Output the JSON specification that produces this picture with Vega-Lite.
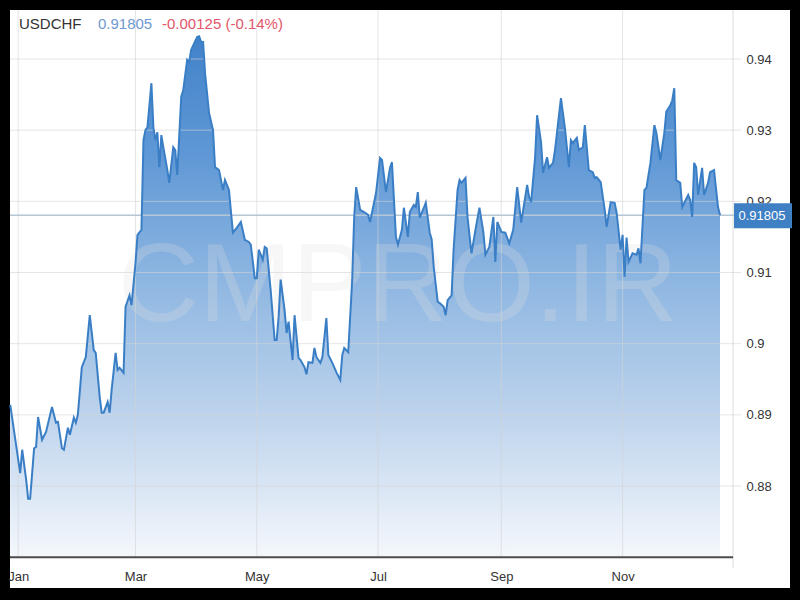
{
  "$schema": "https://vega.github.io/schema/vega-lite/v6.json",
  "width": 780,
  "height": 578,
  "autosize": {"type": "none"},
  "padding": {"left": 10, "top": 10, "right": 10, "bottom": 12},
  "background": "#000000",
  "config": {
    "view": {"fill": "#ffffff", "stroke": null},
    "font": "Liberation Sans, Arial, sans-serif"
  },
  "datasets": {
    "prices": [
      {"date": "2020-12-28", "close": 0.8914},
      {"date": "2021-01-02", "close": 0.8818},
      {"date": "2021-01-03", "close": 0.8851},
      {"date": "2021-01-05", "close": 0.8809},
      {"date": "2021-01-06", "close": 0.8782},
      {"date": "2021-01-07", "close": 0.8782},
      {"date": "2021-01-09", "close": 0.8853},
      {"date": "2021-01-10", "close": 0.8855},
      {"date": "2021-01-11", "close": 0.8897},
      {"date": "2021-01-13", "close": 0.8865},
      {"date": "2021-01-15", "close": 0.8876},
      {"date": "2021-01-18", "close": 0.8911},
      {"date": "2021-01-20", "close": 0.8889},
      {"date": "2021-01-21", "close": 0.8890},
      {"date": "2021-01-23", "close": 0.8853},
      {"date": "2021-01-24", "close": 0.8851},
      {"date": "2021-01-26", "close": 0.8882},
      {"date": "2021-01-27", "close": 0.8872},
      {"date": "2021-01-29", "close": 0.8896},
      {"date": "2021-01-30", "close": 0.8889},
      {"date": "2021-01-31", "close": 0.8900},
      {"date": "2021-02-02", "close": 0.8967},
      {"date": "2021-02-04", "close": 0.8981},
      {"date": "2021-02-06", "close": 0.9040},
      {"date": "2021-02-08", "close": 0.8991},
      {"date": "2021-02-09", "close": 0.8987},
      {"date": "2021-02-11", "close": 0.8925},
      {"date": "2021-02-12", "close": 0.8903},
      {"date": "2021-02-13", "close": 0.8903},
      {"date": "2021-02-15", "close": 0.8918},
      {"date": "2021-02-16", "close": 0.8903},
      {"date": "2021-02-17", "close": 0.8935},
      {"date": "2021-02-19", "close": 0.8987},
      {"date": "2021-02-20", "close": 0.8963},
      {"date": "2021-02-21", "close": 0.8966},
      {"date": "2021-02-23", "close": 0.8959},
      {"date": "2021-02-24", "close": 0.9052},
      {"date": "2021-02-26", "close": 0.9068},
      {"date": "2021-02-27", "close": 0.9054},
      {"date": "2021-03-01", "close": 0.9113},
      {"date": "2021-03-02", "close": 0.9153},
      {"date": "2021-03-04", "close": 0.9160},
      {"date": "2021-03-05", "close": 0.9286},
      {"date": "2021-03-06", "close": 0.9300},
      {"date": "2021-03-07", "close": 0.9304},
      {"date": "2021-03-09", "close": 0.9366},
      {"date": "2021-03-10", "close": 0.9304},
      {"date": "2021-03-11", "close": 0.9286},
      {"date": "2021-03-12", "close": 0.9297},
      {"date": "2021-03-13", "close": 0.9248},
      {"date": "2021-03-14", "close": 0.9293},
      {"date": "2021-03-15", "close": 0.9276},
      {"date": "2021-03-17", "close": 0.9244},
      {"date": "2021-03-18", "close": 0.9226},
      {"date": "2021-03-20", "close": 0.9276},
      {"date": "2021-03-21", "close": 0.9272},
      {"date": "2021-03-22", "close": 0.9237},
      {"date": "2021-03-24", "close": 0.9347},
      {"date": "2021-03-25", "close": 0.9356},
      {"date": "2021-03-27", "close": 0.9399},
      {"date": "2021-03-28", "close": 0.9396},
      {"date": "2021-03-29", "close": 0.9413},
      {"date": "2021-04-01", "close": 0.9431},
      {"date": "2021-04-02", "close": 0.9432},
      {"date": "2021-04-03", "close": 0.9424},
      {"date": "2021-04-04", "close": 0.9424},
      {"date": "2021-04-05", "close": 0.9380},
      {"date": "2021-04-07", "close": 0.9324},
      {"date": "2021-04-09", "close": 0.9300},
      {"date": "2021-04-10", "close": 0.9248},
      {"date": "2021-04-12", "close": 0.9244},
      {"date": "2021-04-14", "close": 0.9216},
      {"date": "2021-04-15", "close": 0.9230},
      {"date": "2021-04-17", "close": 0.9216},
      {"date": "2021-04-19", "close": 0.9156},
      {"date": "2021-04-21", "close": 0.9163},
      {"date": "2021-04-23", "close": 0.9171},
      {"date": "2021-04-25", "close": 0.9146},
      {"date": "2021-04-27", "close": 0.9143},
      {"date": "2021-04-28", "close": 0.9139},
      {"date": "2021-04-30", "close": 0.9092},
      {"date": "2021-05-01", "close": 0.9092},
      {"date": "2021-05-02", "close": 0.9132},
      {"date": "2021-05-04", "close": 0.9118},
      {"date": "2021-05-05", "close": 0.9136},
      {"date": "2021-05-06", "close": 0.9134},
      {"date": "2021-05-08", "close": 0.9075},
      {"date": "2021-05-10", "close": 0.9005},
      {"date": "2021-05-11", "close": 0.9005},
      {"date": "2021-05-12", "close": 0.9038},
      {"date": "2021-05-13", "close": 0.9090},
      {"date": "2021-05-15", "close": 0.9047},
      {"date": "2021-05-16", "close": 0.9015},
      {"date": "2021-05-17", "close": 0.9031},
      {"date": "2021-05-19", "close": 0.8977},
      {"date": "2021-05-20", "close": 0.9040},
      {"date": "2021-05-22", "close": 0.8980},
      {"date": "2021-05-23", "close": 0.8977},
      {"date": "2021-05-25", "close": 0.8967},
      {"date": "2021-05-26", "close": 0.8957},
      {"date": "2021-05-27", "close": 0.8974},
      {"date": "2021-05-29", "close": 0.8973},
      {"date": "2021-05-30", "close": 0.8994},
      {"date": "2021-05-31", "close": 0.8981},
      {"date": "2021-06-02", "close": 0.8973},
      {"date": "2021-06-03", "close": 0.8981},
      {"date": "2021-06-05", "close": 0.9036},
      {"date": "2021-06-06", "close": 0.8984},
      {"date": "2021-06-08", "close": 0.8973},
      {"date": "2021-06-10", "close": 0.8960},
      {"date": "2021-06-12", "close": 0.8949},
      {"date": "2021-06-13", "close": 0.8984},
      {"date": "2021-06-14", "close": 0.8994},
      {"date": "2021-06-16", "close": 0.8988},
      {"date": "2021-06-18", "close": 0.9090},
      {"date": "2021-06-19", "close": 0.9178},
      {"date": "2021-06-20", "close": 0.9220},
      {"date": "2021-06-22", "close": 0.9188},
      {"date": "2021-06-24", "close": 0.9185},
      {"date": "2021-06-26", "close": 0.9181},
      {"date": "2021-06-27", "close": 0.9171},
      {"date": "2021-06-30", "close": 0.9212},
      {"date": "2021-07-02", "close": 0.9261},
      {"date": "2021-07-03", "close": 0.9258},
      {"date": "2021-07-05", "close": 0.9213},
      {"date": "2021-07-07", "close": 0.9247},
      {"date": "2021-07-08", "close": 0.9255},
      {"date": "2021-07-10", "close": 0.9150},
      {"date": "2021-07-11", "close": 0.9139},
      {"date": "2021-07-13", "close": 0.9160},
      {"date": "2021-07-14", "close": 0.9191},
      {"date": "2021-07-16", "close": 0.9150},
      {"date": "2021-07-17", "close": 0.9185},
      {"date": "2021-07-19", "close": 0.9195},
      {"date": "2021-07-20", "close": 0.9192},
      {"date": "2021-07-21", "close": 0.9213},
      {"date": "2021-07-22", "close": 0.9177},
      {"date": "2021-07-24", "close": 0.9191},
      {"date": "2021-07-25", "close": 0.9198},
      {"date": "2021-07-27", "close": 0.9156},
      {"date": "2021-07-28", "close": 0.9146},
      {"date": "2021-07-29", "close": 0.9108},
      {"date": "2021-07-31", "close": 0.9059},
      {"date": "2021-08-01", "close": 0.9057},
      {"date": "2021-08-03", "close": 0.9052},
      {"date": "2021-08-04", "close": 0.9040},
      {"date": "2021-08-05", "close": 0.9061},
      {"date": "2021-08-07", "close": 0.9068},
      {"date": "2021-08-08", "close": 0.9132},
      {"date": "2021-08-10", "close": 0.9216},
      {"date": "2021-08-11", "close": 0.9230},
      {"date": "2021-08-12", "close": 0.9226},
      {"date": "2021-08-14", "close": 0.9233},
      {"date": "2021-08-15", "close": 0.9178},
      {"date": "2021-08-17", "close": 0.9127},
      {"date": "2021-08-19", "close": 0.9160},
      {"date": "2021-08-21", "close": 0.9191},
      {"date": "2021-08-23", "close": 0.9156},
      {"date": "2021-08-24", "close": 0.9125},
      {"date": "2021-08-26", "close": 0.9136},
      {"date": "2021-08-28", "close": 0.9178},
      {"date": "2021-08-29", "close": 0.9115},
      {"date": "2021-08-30", "close": 0.9171},
      {"date": "2021-09-01", "close": 0.9157},
      {"date": "2021-09-03", "close": 0.9156},
      {"date": "2021-09-05", "close": 0.9141},
      {"date": "2021-09-07", "close": 0.9160},
      {"date": "2021-09-09", "close": 0.9220},
      {"date": "2021-09-11", "close": 0.9170},
      {"date": "2021-09-14", "close": 0.9223},
      {"date": "2021-09-15", "close": 0.9206},
      {"date": "2021-09-16", "close": 0.9199},
      {"date": "2021-09-18", "close": 0.9262},
      {"date": "2021-09-19", "close": 0.9321},
      {"date": "2021-09-21", "close": 0.9283},
      {"date": "2021-09-22", "close": 0.9240},
      {"date": "2021-09-24", "close": 0.9262},
      {"date": "2021-09-25", "close": 0.9247},
      {"date": "2021-09-27", "close": 0.9254},
      {"date": "2021-09-28", "close": 0.9272},
      {"date": "2021-10-01", "close": 0.9345},
      {"date": "2021-10-02", "close": 0.9324},
      {"date": "2021-10-03", "close": 0.9303},
      {"date": "2021-10-05", "close": 0.9248},
      {"date": "2021-10-06", "close": 0.9286},
      {"date": "2021-10-07", "close": 0.9282},
      {"date": "2021-10-09", "close": 0.9289},
      {"date": "2021-10-10", "close": 0.9272},
      {"date": "2021-10-12", "close": 0.9276},
      {"date": "2021-10-13", "close": 0.9307},
      {"date": "2021-10-15", "close": 0.9244},
      {"date": "2021-10-17", "close": 0.9241},
      {"date": "2021-10-18", "close": 0.9233},
      {"date": "2021-10-19", "close": 0.9234},
      {"date": "2021-10-21", "close": 0.9227},
      {"date": "2021-10-23", "close": 0.9188},
      {"date": "2021-10-24", "close": 0.9164},
      {"date": "2021-10-26", "close": 0.9199},
      {"date": "2021-10-28", "close": 0.9198},
      {"date": "2021-10-29", "close": 0.9184},
      {"date": "2021-10-31", "close": 0.9132},
      {"date": "2021-11-01", "close": 0.9153},
      {"date": "2021-11-02", "close": 0.9094},
      {"date": "2021-11-03", "close": 0.9149},
      {"date": "2021-11-04", "close": 0.9115},
      {"date": "2021-11-06", "close": 0.9127},
      {"date": "2021-11-08", "close": 0.9125},
      {"date": "2021-11-09", "close": 0.9134},
      {"date": "2021-11-10", "close": 0.9113},
      {"date": "2021-11-12", "close": 0.9216},
      {"date": "2021-11-13", "close": 0.9219},
      {"date": "2021-11-15", "close": 0.9254},
      {"date": "2021-11-17", "close": 0.9307},
      {"date": "2021-11-18", "close": 0.9296},
      {"date": "2021-11-20", "close": 0.9258},
      {"date": "2021-11-22", "close": 0.9296},
      {"date": "2021-11-23", "close": 0.9326},
      {"date": "2021-11-25", "close": 0.9335},
      {"date": "2021-11-26", "close": 0.9342},
      {"date": "2021-11-27", "close": 0.9359},
      {"date": "2021-11-28", "close": 0.9230},
      {"date": "2021-11-30", "close": 0.9226},
      {"date": "2021-12-01", "close": 0.9192},
      {"date": "2021-12-04", "close": 0.9209},
      {"date": "2021-12-05", "close": 0.9202},
      {"date": "2021-12-06", "close": 0.9178},
      {"date": "2021-12-07", "close": 0.9254},
      {"date": "2021-12-08", "close": 0.9248},
      {"date": "2021-12-09", "close": 0.9209},
      {"date": "2021-12-11", "close": 0.9247},
      {"date": "2021-12-12", "close": 0.9209},
      {"date": "2021-12-14", "close": 0.9226},
      {"date": "2021-12-15", "close": 0.9241},
      {"date": "2021-12-17", "close": 0.9244},
      {"date": "2021-12-19", "close": 0.9192},
      {"date": "2021-12-20", "close": 0.91805}
    ],
    "months": [
      {"date": "2021-01-01"},
      {"date": "2021-03-01"},
      {"date": "2021-05-01"},
      {"date": "2021-07-01"},
      {"date": "2021-09-01"},
      {"date": "2021-11-01"}
    ],
    "levels": [
      {"level": 0.88}, {"level": 0.89}, {"level": 0.9}, {"level": 0.91},
      {"level": 0.92}, {"level": 0.93}, {"level": 0.94}
    ],
    "last": [{"date": "2021-12-20", "close": 0.91805}],
    "quote": [{"symbol": "USDCHF", "last": 0.91805, "change": "-0.00125 (-0.14%)", "mark": "CMPRO.IR"}]
  },
  "layer": [
    {
      "data": {"name": "prices"},
      "mark": {
        "type": "area",
        "interpolate": "linear",
        "color": {
          "gradient": "linear",
          "x1": 0, "y1": 0, "x2": 0, "y2": 1,
          "stops": [
            {"offset": 0, "color": "#4282c9"},
            {"offset": 0.22, "color": "#5e97d5"},
            {"offset": 0.5, "color": "#94bae3"},
            {"offset": 0.7, "color": "#b8d0eb"},
            {"offset": 0.93, "color": "#e6eef8"},
            {"offset": 1, "color": "#f4f8fc"}
          ]
        }
      },
      "encoding": {
        "x": {
          "field": "date",
          "type": "temporal",
          "title": null,
          "scale": {
            "type": "utc",
            "domain": [
              {"year": 2020, "month": 12, "date": 27, "hours": 21, "utc": true},
              {"year": 2022, "month": 1, "date": 24, "hours": 5, "utc": true}
            ]
          },
          "axis": {
            "orient": "bottom",
            "offset": -31,
            "values": [
              {"year": 2021, "month": 1, "date": 1, "utc": true},
              {"year": 2021, "month": 3, "date": 1, "utc": true},
              {"year": 2021, "month": 5, "date": 1, "utc": true},
              {"year": 2021, "month": 7, "date": 1, "utc": true},
              {"year": 2021, "month": 9, "date": 1, "utc": true},
              {"year": 2021, "month": 11, "date": 1, "utc": true}
            ],
            "labelExpr": "utcFormat(datum.value, '%b')",
            "domain": false,
            "ticks": false,
            "grid": false,
            "labelPadding": 13,
            "labelFontSize": 13,
            "labelColor": "#333333",
            "labelFlush": false,
            "labelOverlap": false
          }
        },
        "y": {
          "field": "close",
          "type": "quantitative",
          "title": null,
          "scale": {"domain": [0.865671, 0.946885], "nice": false, "zero": false},
          "axis": {
            "orient": "right",
            "offset": -50,
            "values": [0.88, 0.89, 0.9, 0.91, 0.92, 0.93, 0.94],
            "format": ".2~f",
            "domain": false,
            "ticks": false,
            "grid": false,
            "labelPadding": 6,
            "labelFontSize": 13,
            "labelColor": "#333333",
            "labelOverlap": false
          }
        },
        "y2": {"datum": 0.87}
      }
    },
    {
      "data": {"name": "levels"},
      "mark": {"type": "rule", "color": "#d4d4d4", "opacity": 0.6, "strokeWidth": 1},
      "encoding": {
        "y": {"field": "level", "type": "quantitative", "title": null},
        "x": {"datum": {"year": 2020, "month": 12, "date": 27, "hours": 21, "utc": true}},
        "x2": {"datum": {"year": 2021, "month": 12, "date": 30, "hours": 14, "utc": true}}
      }
    },
    {
      "data": {"name": "months"},
      "mark": {"type": "rule", "color": "#d4d4d4", "opacity": 0.6, "strokeWidth": 1},
      "encoding": {
        "x": {"field": "date", "type": "temporal", "title": null},
        "y": {"datum": 0.87},
        "y2": {"datum": 0.946885}
      }
    },
    {
      "data": {"values": [{}]},
      "mark": {"type": "rule", "color": "#d4d4d4", "opacity": 0.8, "strokeWidth": 1},
      "encoding": {
        "x": {"datum": {"year": 2021, "month": 12, "date": 26, "hours": 13, "minutes": 30, "utc": true}},
        "y": {"datum": 0.8685},
        "y2": {"datum": 0.946885}
      }
    },
    {
      "data": {"name": "last"},
      "mark": {"type": "rule", "color": "#b5c6d6", "strokeWidth": 1.5},
      "encoding": {
        "y": {"field": "close", "type": "quantitative", "title": null}
      }
    },
    {
      "data": {"name": "quote"},
      "mark": {
        "type": "text",
        "align": "center",
        "baseline": "middle",
        "fontSize": 112,
        "color": "#e0e0e0",
        "opacity": 0.25
      },
      "encoding": {
        "x": {"datum": {"year": 2021, "month": 7, "date": 11, "utc": true}},
        "y": {"datum": 0.9079},
        "text": {"field": "mark"}
      }
    },
    {
      "data": {"values": [{}]},
      "mark": {"type": "rule", "color": "#4d4d4d", "strokeWidth": 2},
      "encoding": {
        "x": {"datum": {"year": 2020, "month": 12, "date": 27, "hours": 21, "utc": true}},
        "x2": {"datum": {"year": 2021, "month": 12, "date": 26, "hours": 13, "minutes": 30, "utc": true}},
        "y": {"datum": 0.87}
      }
    },
    {
      "data": {"name": "prices"},
      "mark": {"type": "line", "color": "#3a7fc6", "strokeWidth": 2, "interpolate": "linear"},
      "encoding": {
        "x": {"field": "date", "type": "temporal", "title": null},
        "y": {"field": "close", "type": "quantitative", "title": null}
      }
    },
    {
      "data": {"name": "last"},
      "mark": {"type": "rect", "color": "#3f80c4", "xOffset": 14, "x2Offset": 72, "yOffset": -12, "y2Offset": 13},
      "encoding": {
        "x": {"field": "date", "type": "temporal", "title": null},
        "x2": {"field": "date"},
        "y": {"field": "close", "type": "quantitative", "title": null},
        "y2": {"field": "close"}
      }
    },
    {
      "data": {"name": "last"},
      "mark": {"type": "text", "color": "#ffffff", "fontSize": 13, "align": "center", "baseline": "middle", "xOffset": 42, "yOffset": 1},
      "encoding": {
        "x": {"field": "date", "type": "temporal", "title": null},
        "y": {"field": "close", "type": "quantitative", "title": null},
        "text": {"field": "close", "type": "quantitative", "format": ".5f"}
      }
    },
    {
      "data": {"name": "quote"},
      "mark": {"type": "text", "color": "#333333", "fontSize": 15, "align": "left", "baseline": "alphabetic"},
      "encoding": {
        "x": {"datum": {"year": 2021, "month": 1, "date": 1, "hours": 10, "utc": true}},
        "y": {"datum": 0.94415},
        "text": {"field": "symbol"}
      }
    },
    {
      "data": {"name": "quote"},
      "mark": {"type": "text", "color": "#6d9ad0", "fontSize": 15, "align": "left", "baseline": "alphabetic"},
      "encoding": {
        "x": {"datum": {"year": 2021, "month": 2, "date": 10, "hours": 3, "utc": true}},
        "y": {"datum": 0.94415},
        "text": {"field": "last", "type": "quantitative", "format": ".5f"}
      }
    },
    {
      "data": {"name": "quote"},
      "mark": {"type": "text", "color": "#e2566a", "fontSize": 15, "align": "left", "baseline": "alphabetic"},
      "encoding": {
        "x": {"datum": {"year": 2021, "month": 3, "date": 14, "hours": 8, "utc": true}},
        "y": {"datum": 0.94415},
        "text": {"field": "change"}
      }
    }
  ]
}
